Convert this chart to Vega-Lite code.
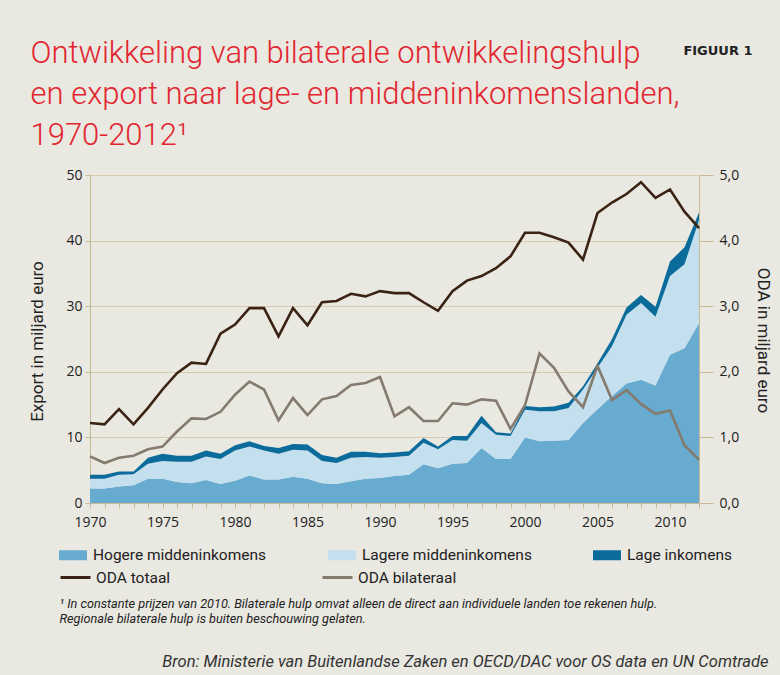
{
  "$schema": "https://vega.github.io/schema/vega-lite/v6.json",
  "width": 609,
  "height": 328,
  "autosize": {"type": "none"},
  "padding": {"left": 90, "top": 175, "right": 81, "bottom": 172},
  "background": "#e9e8e1",
  "config": {
    "view": {"stroke": null},
    "axis": {
      "labelFont": "Open Sans",
      "labelFontSize": 14,
      "labelColor": "#222222",
      "titleFont": "Roboto",
      "titleFontSize": 17,
      "titleFontWeight": "normal",
      "titleColor": "#222222",
      "domainColor": "#c9b994",
      "tickColor": "#c9b994",
      "gridColor": "#d6cab0"
    },
    "legend": {
      "labelFont": "Roboto",
      "labelFontSize": 15.5,
      "labelColor": "#222222",
      "labelLimit": 400
    }
  },
  "datasets": {
    "export": [
      {"jaar":1970,"groep":"Hogere middeninkomens","waarde":2.2},{"jaar":1970,"groep":"Lagere middeninkomens","waarde":1.5},{"jaar":1970,"groep":"Lage inkomens","waarde":0.6},
      {"jaar":1971,"groep":"Hogere middeninkomens","waarde":2.2},{"jaar":1971,"groep":"Lagere middeninkomens","waarde":1.5},{"jaar":1971,"groep":"Lage inkomens","waarde":0.6},
      {"jaar":1972,"groep":"Hogere middeninkomens","waarde":2.5},{"jaar":1972,"groep":"Lagere middeninkomens","waarde":1.8},{"jaar":1972,"groep":"Lage inkomens","waarde":0.5},
      {"jaar":1973,"groep":"Hogere middeninkomens","waarde":2.7},{"jaar":1973,"groep":"Lagere middeninkomens","waarde":1.7},{"jaar":1973,"groep":"Lage inkomens","waarde":0.4},
      {"jaar":1974,"groep":"Hogere middeninkomens","waarde":3.7},{"jaar":1974,"groep":"Lagere middeninkomens","waarde":2.3},{"jaar":1974,"groep":"Lage inkomens","waarde":0.9},
      {"jaar":1975,"groep":"Hogere middeninkomens","waarde":3.7},{"jaar":1975,"groep":"Lagere middeninkomens","waarde":2.7},{"jaar":1975,"groep":"Lage inkomens","waarde":1.1},
      {"jaar":1976,"groep":"Hogere middeninkomens","waarde":3.2},{"jaar":1976,"groep":"Lagere middeninkomens","waarde":3.1},{"jaar":1976,"groep":"Lage inkomens","waarde":0.9},
      {"jaar":1977,"groep":"Hogere middeninkomens","waarde":3.0},{"jaar":1977,"groep":"Lagere middeninkomens","waarde":3.3},{"jaar":1977,"groep":"Lage inkomens","waarde":0.9},
      {"jaar":1978,"groep":"Hogere middeninkomens","waarde":3.5},{"jaar":1978,"groep":"Lagere middeninkomens","waarde":3.6},{"jaar":1978,"groep":"Lage inkomens","waarde":0.9},
      {"jaar":1979,"groep":"Hogere middeninkomens","waarde":2.9},{"jaar":1979,"groep":"Lagere middeninkomens","waarde":3.8},{"jaar":1979,"groep":"Lage inkomens","waarde":0.8},
      {"jaar":1980,"groep":"Hogere middeninkomens","waarde":3.4},{"jaar":1980,"groep":"Lagere middeninkomens","waarde":4.6},{"jaar":1980,"groep":"Lage inkomens","waarde":0.8},
      {"jaar":1981,"groep":"Hogere middeninkomens","waarde":4.2},{"jaar":1981,"groep":"Lagere middeninkomens","waarde":4.4},{"jaar":1981,"groep":"Lage inkomens","waarde":0.8},
      {"jaar":1982,"groep":"Hogere middeninkomens","waarde":3.6},{"jaar":1982,"groep":"Lagere middeninkomens","waarde":4.4},{"jaar":1982,"groep":"Lage inkomens","waarde":0.7},
      {"jaar":1983,"groep":"Hogere middeninkomens","waarde":3.6},{"jaar":1983,"groep":"Lagere middeninkomens","waarde":3.9},{"jaar":1983,"groep":"Lage inkomens","waarde":0.9},
      {"jaar":1984,"groep":"Hogere middeninkomens","waarde":4.0},{"jaar":1984,"groep":"Lagere middeninkomens","waarde":4.1},{"jaar":1984,"groep":"Lage inkomens","waarde":0.9},
      {"jaar":1985,"groep":"Hogere middeninkomens","waarde":3.7},{"jaar":1985,"groep":"Lagere middeninkomens","waarde":4.3},{"jaar":1985,"groep":"Lage inkomens","waarde":0.9},
      {"jaar":1986,"groep":"Hogere middeninkomens","waarde":3.0},{"jaar":1986,"groep":"Lagere middeninkomens","waarde":3.4},{"jaar":1986,"groep":"Lage inkomens","waarde":0.9},
      {"jaar":1987,"groep":"Hogere middeninkomens","waarde":2.9},{"jaar":1987,"groep":"Lagere middeninkomens","waarde":3.2},{"jaar":1987,"groep":"Lage inkomens","waarde":0.8},
      {"jaar":1988,"groep":"Hogere middeninkomens","waarde":3.3},{"jaar":1988,"groep":"Lagere middeninkomens","waarde":3.6},{"jaar":1988,"groep":"Lage inkomens","waarde":0.9},
      {"jaar":1989,"groep":"Hogere middeninkomens","waarde":3.7},{"jaar":1989,"groep":"Lagere middeninkomens","waarde":3.3},{"jaar":1989,"groep":"Lage inkomens","waarde":0.8},
      {"jaar":1990,"groep":"Hogere middeninkomens","waarde":3.8},{"jaar":1990,"groep":"Lagere middeninkomens","waarde":3.1},{"jaar":1990,"groep":"Lage inkomens","waarde":0.7},
      {"jaar":1991,"groep":"Hogere middeninkomens","waarde":4.1},{"jaar":1991,"groep":"Lagere middeninkomens","waarde":2.9},{"jaar":1991,"groep":"Lage inkomens","waarde":0.7},
      {"jaar":1992,"groep":"Hogere middeninkomens","waarde":4.3},{"jaar":1992,"groep":"Lagere middeninkomens","waarde":2.9},{"jaar":1992,"groep":"Lage inkomens","waarde":0.7},
      {"jaar":1993,"groep":"Hogere middeninkomens","waarde":5.9},{"jaar":1993,"groep":"Lagere middeninkomens","waarde":3.3},{"jaar":1993,"groep":"Lage inkomens","waarde":0.7},
      {"jaar":1994,"groep":"Hogere middeninkomens","waarde":5.3},{"jaar":1994,"groep":"Lagere middeninkomens","waarde":2.9},{"jaar":1994,"groep":"Lage inkomens","waarde":0.4},
      {"jaar":1995,"groep":"Hogere middeninkomens","waarde":6.0},{"jaar":1995,"groep":"Lagere middeninkomens","waarde":3.6},{"jaar":1995,"groep":"Lage inkomens","waarde":0.6},
      {"jaar":1996,"groep":"Hogere middeninkomens","waarde":6.1},{"jaar":1996,"groep":"Lagere middeninkomens","waarde":3.4},{"jaar":1996,"groep":"Lage inkomens","waarde":0.7},
      {"jaar":1997,"groep":"Hogere middeninkomens","waarde":8.4},{"jaar":1997,"groep":"Lagere middeninkomens","waarde":3.8},{"jaar":1997,"groep":"Lage inkomens","waarde":1.1},
      {"jaar":1998,"groep":"Hogere middeninkomens","waarde":6.7},{"jaar":1998,"groep":"Lagere middeninkomens","waarde":3.7},{"jaar":1998,"groep":"Lage inkomens","waarde":0.4},
      {"jaar":1999,"groep":"Hogere middeninkomens","waarde":6.7},{"jaar":1999,"groep":"Lagere middeninkomens","waarde":3.5},{"jaar":1999,"groep":"Lage inkomens","waarde":0.4},
      {"jaar":2000,"groep":"Hogere middeninkomens","waarde":10.0},{"jaar":2000,"groep":"Lagere middeninkomens","waarde":4.2},{"jaar":2000,"groep":"Lage inkomens","waarde":0.6},
      {"jaar":2001,"groep":"Hogere middeninkomens","waarde":9.4},{"jaar":2001,"groep":"Lagere middeninkomens","waarde":4.6},{"jaar":2001,"groep":"Lage inkomens","waarde":0.6},
      {"jaar":2002,"groep":"Hogere middeninkomens","waarde":9.5},{"jaar":2002,"groep":"Lagere middeninkomens","waarde":4.5},{"jaar":2002,"groep":"Lage inkomens","waarde":0.7},
      {"jaar":2003,"groep":"Hogere middeninkomens","waarde":9.6},{"jaar":2003,"groep":"Lagere middeninkomens","waarde":4.9},{"jaar":2003,"groep":"Lage inkomens","waarde":0.8},
      {"jaar":2004,"groep":"Hogere middeninkomens","waarde":12.2},{"jaar":2004,"groep":"Lagere middeninkomens","waarde":5.1},{"jaar":2004,"groep":"Lage inkomens","waarde":0.5},
      {"jaar":2005,"groep":"Hogere middeninkomens","waarde":14.3},{"jaar":2005,"groep":"Lagere middeninkomens","waarde":6.3},{"jaar":2005,"groep":"Lage inkomens","waarde":0.7},
      {"jaar":2006,"groep":"Hogere middeninkomens","waarde":16.3},{"jaar":2006,"groep":"Lagere middeninkomens","waarde":7.6},{"jaar":2006,"groep":"Lage inkomens","waarde":1.1},
      {"jaar":2007,"groep":"Hogere middeninkomens","waarde":18.2},{"jaar":2007,"groep":"Lagere middeninkomens","waarde":10.5},{"jaar":2007,"groep":"Lage inkomens","waarde":1.1},
      {"jaar":2008,"groep":"Hogere middeninkomens","waarde":18.8},{"jaar":2008,"groep":"Lagere middeninkomens","waarde":11.7},{"jaar":2008,"groep":"Lage inkomens","waarde":1.2},
      {"jaar":2009,"groep":"Hogere middeninkomens","waarde":17.9},{"jaar":2009,"groep":"Lagere middeninkomens","waarde":10.5},{"jaar":2009,"groep":"Lage inkomens","waarde":1.5},
      {"jaar":2010,"groep":"Hogere middeninkomens","waarde":22.6},{"jaar":2010,"groep":"Lagere middeninkomens","waarde":12.0},{"jaar":2010,"groep":"Lage inkomens","waarde":2.2},
      {"jaar":2011,"groep":"Hogere middeninkomens","waarde":23.6},{"jaar":2011,"groep":"Lagere middeninkomens","waarde":12.8},{"jaar":2011,"groep":"Lage inkomens","waarde":2.6},
      {"jaar":2012,"groep":"Hogere middeninkomens","waarde":27.4},{"jaar":2012,"groep":"Lagere middeninkomens","waarde":15.7},{"jaar":2012,"groep":"Lage inkomens","waarde":1.2}
    ],
    "oda": [
      {"jaar":1970,"reeks":"ODA totaal","waarde":1.22},{"jaar":1971,"reeks":"ODA totaal","waarde":1.20},{"jaar":1972,"reeks":"ODA totaal","waarde":1.43},{"jaar":1973,"reeks":"ODA totaal","waarde":1.20},{"jaar":1974,"reeks":"ODA totaal","waarde":1.45},
      {"jaar":1975,"reeks":"ODA totaal","waarde":1.73},{"jaar":1976,"reeks":"ODA totaal","waarde":1.98},{"jaar":1977,"reeks":"ODA totaal","waarde":2.14},{"jaar":1978,"reeks":"ODA totaal","waarde":2.12},{"jaar":1979,"reeks":"ODA totaal","waarde":2.58},
      {"jaar":1980,"reeks":"ODA totaal","waarde":2.72},{"jaar":1981,"reeks":"ODA totaal","waarde":2.97},{"jaar":1982,"reeks":"ODA totaal","waarde":2.97},{"jaar":1983,"reeks":"ODA totaal","waarde":2.54},{"jaar":1984,"reeks":"ODA totaal","waarde":2.97},
      {"jaar":1985,"reeks":"ODA totaal","waarde":2.71},{"jaar":1986,"reeks":"ODA totaal","waarde":3.06},{"jaar":1987,"reeks":"ODA totaal","waarde":3.08},{"jaar":1988,"reeks":"ODA totaal","waarde":3.19},{"jaar":1989,"reeks":"ODA totaal","waarde":3.15},
      {"jaar":1990,"reeks":"ODA totaal","waarde":3.23},{"jaar":1991,"reeks":"ODA totaal","waarde":3.20},{"jaar":1992,"reeks":"ODA totaal","waarde":3.20},{"jaar":1993,"reeks":"ODA totaal","waarde":3.06},{"jaar":1994,"reeks":"ODA totaal","waarde":2.93},
      {"jaar":1995,"reeks":"ODA totaal","waarde":3.23},{"jaar":1996,"reeks":"ODA totaal","waarde":3.39},{"jaar":1997,"reeks":"ODA totaal","waarde":3.46},{"jaar":1998,"reeks":"ODA totaal","waarde":3.58},{"jaar":1999,"reeks":"ODA totaal","waarde":3.76},
      {"jaar":2000,"reeks":"ODA totaal","waarde":4.12},{"jaar":2001,"reeks":"ODA totaal","waarde":4.12},{"jaar":2002,"reeks":"ODA totaal","waarde":4.05},{"jaar":2003,"reeks":"ODA totaal","waarde":3.97},{"jaar":2004,"reeks":"ODA totaal","waarde":3.71},
      {"jaar":2005,"reeks":"ODA totaal","waarde":4.42},{"jaar":2006,"reeks":"ODA totaal","waarde":4.58},{"jaar":2007,"reeks":"ODA totaal","waarde":4.71},{"jaar":2008,"reeks":"ODA totaal","waarde":4.89},{"jaar":2009,"reeks":"ODA totaal","waarde":4.65},
      {"jaar":2010,"reeks":"ODA totaal","waarde":4.78},{"jaar":2011,"reeks":"ODA totaal","waarde":4.44},{"jaar":2012,"reeks":"ODA totaal","waarde":4.19},
      {"jaar":1970,"reeks":"ODA bilateraal","waarde":0.71},{"jaar":1971,"reeks":"ODA bilateraal","waarde":0.61},{"jaar":1972,"reeks":"ODA bilateraal","waarde":0.69},{"jaar":1973,"reeks":"ODA bilateraal","waarde":0.72},{"jaar":1974,"reeks":"ODA bilateraal","waarde":0.82},
      {"jaar":1975,"reeks":"ODA bilateraal","waarde":0.86},{"jaar":1976,"reeks":"ODA bilateraal","waarde":1.09},{"jaar":1977,"reeks":"ODA bilateraal","waarde":1.29},{"jaar":1978,"reeks":"ODA bilateraal","waarde":1.28},{"jaar":1979,"reeks":"ODA bilateraal","waarde":1.39},
      {"jaar":1980,"reeks":"ODA bilateraal","waarde":1.65},{"jaar":1981,"reeks":"ODA bilateraal","waarde":1.85},{"jaar":1982,"reeks":"ODA bilateraal","waarde":1.73},{"jaar":1983,"reeks":"ODA bilateraal","waarde":1.26},{"jaar":1984,"reeks":"ODA bilateraal","waarde":1.60},
      {"jaar":1985,"reeks":"ODA bilateraal","waarde":1.34},{"jaar":1986,"reeks":"ODA bilateraal","waarde":1.58},{"jaar":1987,"reeks":"ODA bilateraal","waarde":1.63},{"jaar":1988,"reeks":"ODA bilateraal","waarde":1.80},{"jaar":1989,"reeks":"ODA bilateraal","waarde":1.83},
      {"jaar":1990,"reeks":"ODA bilateraal","waarde":1.92},{"jaar":1991,"reeks":"ODA bilateraal","waarde":1.32},{"jaar":1992,"reeks":"ODA bilateraal","waarde":1.46},{"jaar":1993,"reeks":"ODA bilateraal","waarde":1.25},{"jaar":1994,"reeks":"ODA bilateraal","waarde":1.25},
      {"jaar":1995,"reeks":"ODA bilateraal","waarde":1.52},{"jaar":1996,"reeks":"ODA bilateraal","waarde":1.50},{"jaar":1997,"reeks":"ODA bilateraal","waarde":1.58},{"jaar":1998,"reeks":"ODA bilateraal","waarde":1.56},{"jaar":1999,"reeks":"ODA bilateraal","waarde":1.13},
      {"jaar":2000,"reeks":"ODA bilateraal","waarde":1.49},{"jaar":2001,"reeks":"ODA bilateraal","waarde":2.28},{"jaar":2002,"reeks":"ODA bilateraal","waarde":2.06},{"jaar":2003,"reeks":"ODA bilateraal","waarde":1.70},{"jaar":2004,"reeks":"ODA bilateraal","waarde":1.46},
      {"jaar":2005,"reeks":"ODA bilateraal","waarde":2.09},{"jaar":2006,"reeks":"ODA bilateraal","waarde":1.57},{"jaar":2007,"reeks":"ODA bilateraal","waarde":1.72},{"jaar":2008,"reeks":"ODA bilateraal","waarde":1.51},{"jaar":2009,"reeks":"ODA bilateraal","waarde":1.36},
      {"jaar":2010,"reeks":"ODA bilateraal","waarde":1.41},{"jaar":2011,"reeks":"ODA bilateraal","waarde":0.88},{"jaar":2012,"reeks":"ODA bilateraal","waarde":0.66}
    ]
  },
  "layer": [
    {
      "data": {"name": "export"},
      "transform": [
        {"calculate": "indexof(['Hogere middeninkomens','Lagere middeninkomens','Lage inkomens'], datum.groep)", "as": "volgorde"}
      ],
      "mark": {"type": "area", "interpolate": "linear"},
      "encoding": {
        "x": {
          "field": "jaar", "type": "quantitative",
          "scale": {"domain": [1970, 2012], "nice": false, "zero": false},
          "axis": {
            "orient": "bottom",
            "values": [1970,1971,1972,1973,1974,1975,1976,1977,1978,1979,1980,1981,1982,1983,1984,1985,1986,1987,1988,1989,1990,1991,1992,1993,1994,1995,1996,1997,1998,1999,2000,2001,2002,2003,2004,2005,2006,2007,2008,2009,2010,2011,2012],
            "format": "d",
            "labelExpr": "datum.value % 5 == 0 ? datum.label : ''",
            "labelOverlap": false,
            "labelFlush": false,
            "labelPadding": 7,
            "tickSize": 5,
            "grid": false,
            "title": ["¹ In constante prijzen van 2010. Bilaterale hulp omvat alleen de direct aan individuele landen toe rekenen hulp.", "Regionale bilaterale hulp is buiten beschouwing gelaten."],
            "titleFontSize": 12.7,
            "titleFontStyle": "italic",
            "titleLineHeight": 15,
            "titleX": -31,
            "titleY": 104.5,
            "titleAlign": "left",
            "titleBaseline": "alphabetic",
            "titleAngle": 0
          }
        },
        "y": {
          "field": "waarde", "type": "quantitative", "stack": "zero",
          "scale": {"domain": [0, 50], "nice": false},
          "axis": {
            "orient": "left",
            "values": [0, 10, 20, 30, 40, 50],
            "tickSize": 5,
            "labelPadding": 3,
            "grid": true,
            "title": "Export in miljard euro",
            "titleAngle": -90,
            "titleX": -53,
            "titleY": 166,
            "titleAlign": "center",
            "titleBaseline": "middle"
          }
        },
        "fill": {
          "field": "groep", "type": "nominal",
          "scale": {"domain": ["Hogere middeninkomens", "Lagere middeninkomens", "Lage inkomens"], "range": ["#67abd1", "#c4dfee", "#0b6c9c"]},
          "legend": {
            "orient": "none", "legendX": -31, "legendY": 366,
            "direction": "horizontal", "columns": 3, "columnPadding": 61,
            "title": null, "padding": 0, "rowPadding": 0,
            "symbolType": "M-1,-0.357H1V0.357H-1Z", "symbolSize": 784, "symbolStrokeWidth": 0,
            "labelOffset": 6
          }
        },
        "order": {"field": "volgorde", "type": "quantitative", "sort": "ascending"}
      }
    },
    {
      "data": {"name": "oda"},
      "transform": [{"filter": "datum.reeks === 'ODA totaal'"}],
      "mark": {"type": "line", "strokeWidth": 2.6},
      "encoding": {
        "x": {
          "field": "jaar", "type": "quantitative",
          "scale": {"domain": [1970, 2012], "nice": false, "zero": false},
          "axis": {
            "orient": "top", "labels": false, "ticks": false, "domain": false, "grid": false,
            "title": ["Ontwikkeling van bilaterale ontwikkelingshulp", "en export naar lage- en middeninkomenslanden,", "1970-2012¹"],
            "titleFontSize": 31,
            "titleFontWeight": 300,
            "titleColor": "#e2252f",
            "titleLineHeight": 41,
            "titleX": -60,
            "titleY": -113,
            "titleAlign": "left",
            "titleBaseline": "alphabetic",
            "titleAngle": 0
          }
        },
        "y": {
          "field": "waarde", "type": "quantitative",
          "scale": {"domain": [0, 5], "nice": false},
          "axis": {
            "orient": "right",
            "values": [0, 1, 2, 3, 4, 5],
            "labelExpr": "replace(format(datum.value, '.1f'), '.', ',')",
            "tickSize": 14,
            "labelPadding": 6,
            "grid": false,
            "title": "ODA in miljard euro",
            "titleAngle": 90,
            "titleX": 63,
            "titleY": 165,
            "titleAlign": "center",
            "titleBaseline": "middle"
          }
        },
        "stroke": {
          "field": "reeks", "type": "nominal",
          "scale": {"domain": ["ODA totaal", "ODA bilateraal"], "range": ["#3b2314", "#857a6e"]},
          "legend": {
            "orient": "none", "legendX": -31, "legendY": 386,
            "direction": "horizontal", "columns": 2, "columnPadding": 145,
            "title": null, "padding": 0, "rowPadding": 0,
            "symbolType": "stroke", "symbolSize": 900, "symbolStrokeWidth": 3,
            "labelOffset": 4
          }
        }
      }
    },
    {
      "data": {"name": "oda"},
      "transform": [{"filter": "datum.reeks === 'ODA bilateraal'"}],
      "mark": {"type": "line", "strokeWidth": 2.6},
      "encoding": {
        "x": {
          "field": "jaar", "type": "quantitative",
          "scale": {"domain": [1970, 2012], "nice": false, "zero": false},
          "axis": {
            "orient": "bottom", "labels": false, "ticks": false, "domain": false, "grid": false,
            "title": "Bron: Ministerie van Buitenlandse Zaken en OECD/DAC voor OS data en UN Comtrade",
            "titleFontSize": 16.5,
            "titleFontStyle": "italic",
            "titleColor": "#333333",
            "titleX": 678,
            "titleY": 163.5,
            "titleAlign": "right",
            "titleBaseline": "alphabetic",
            "titleAngle": 0
          }
        },
        "y": {
          "field": "waarde", "type": "quantitative",
          "scale": {"domain": [0, 5], "nice": false},
          "axis": {
            "orient": "right", "labels": false, "ticks": false, "domain": false, "grid": false,
            "title": "FIGUUR 1",
            "titleFont": "DejaVu Sans",
            "titleFontSize": 13,
            "titleFontWeight": "bold",
            "titleColor": "#222222",
            "titleX": 53,
            "titleY": -121,
            "titleAlign": "right",
            "titleBaseline": "alphabetic",
            "titleAngle": 0
          }
        },
        "stroke": {
          "field": "reeks", "type": "nominal",
          "scale": {"domain": ["ODA totaal", "ODA bilateraal"], "range": ["#3b2314", "#857a6e"]}
        }
      }
    }
  ],
  "resolve": {
    "scale": {"y": "independent"},
    "axis": {"x": "independent", "y": "independent"}
  }
}
